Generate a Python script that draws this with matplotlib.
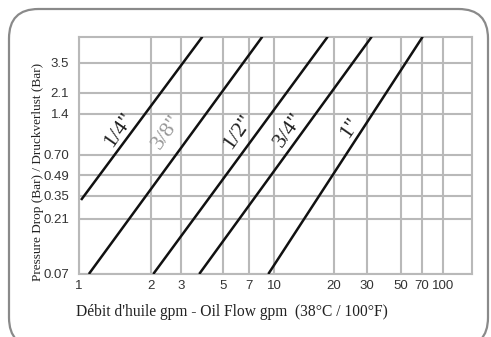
import matplotlib
matplotlib.use("Agg")
import matplotlib.pyplot as plt
import numpy as np
from matplotlib.patches import FancyBboxPatch

# --- data ---
x_ticks = [1, 2, 3, 5, 7, 10, 20, 30, 50, 70, 100]
y_ticks = [0.07, 0.21, 0.35, 0.49, 0.70, 1.4, 2.1, 3.5]
y_tick_labels = ["0.07", "0.21", "0.35", "0.49", "0.70", "1.4", "2.1", "3.5"]

x_min, x_max = 1, 160
y_min, y_max = 0.07, 5.5

hose_sizes = ['1/4"', '3/8"', '1/2"', '3/4"', '1"']
flow_start = [1.02, 1.10, 2.07, 3.75, 9.21]
flow_end = [3.90, 8.45, 18.6, 32.1, 71.2]
drop_start = [0.32, 0.07, 0.07, 0.07, 0.07]
drop_end = [5.5, 5.5, 5.5, 5.5, 5.5]

# where each size label sits (flow, pressure)
label_flow = [1.47, 2.50, 6.1, 11.9, 24.5]
label_drop = [1.06, 1.03, 1.03, 1.06, 1.10]
label_color = ["#222222", "#999999", "#222222", "#222222", "#222222"]

# the printed grid is not a true log grid: spacing of each break in pixels
x_scale_vals = x_ticks + [x_max]
x_scale_px = [0, 71.7, 102, 143.7, 170.3, 195, 255, 288.3, 321.7, 342.7, 363.7, 392.7]
y_scale_vals = y_ticks + [y_max]
y_scale_px = [0, 55.3, 78, 98.7, 119.3, 160.3, 181.3, 211.3, 237.3]


def make_scale(vals, px):
    lv = np.log10(vals)
    px = np.asarray(px, dtype=float)

    def fwd(v):
        v = np.log10(np.clip(np.asarray(v, dtype=float), 1e-9, None))
        out = np.interp(v, lv, px)
        lo = v < lv[0]
        hi = v > lv[-1]
        out = np.where(lo, px[0] + (v - lv[0]) * (px[1] - px[0]) / (lv[1] - lv[0]), out)
        out = np.where(hi, px[-1] + (v - lv[-1]) * (px[-1] - px[-2]) / (lv[-1] - lv[-2]), out)
        return out

    def inv(p):
        p = np.asarray(p, dtype=float)
        out = np.interp(p, px, lv)
        lo = p < px[0]
        hi = p > px[-1]
        out = np.where(lo, lv[0] + (p - px[0]) * (lv[1] - lv[0]) / (px[1] - px[0]), out)
        out = np.where(hi, lv[-1] + (p - px[-1]) * (lv[-1] - lv[-2]) / (px[-1] - px[-2]), out)
        return 10 ** out

    return fwd, inv


W, H = 491, 337
fig = plt.figure(figsize=(W / 100, H / 100), dpi=100)

# rounded frame around the whole chart
frame = FancyBboxPatch((9 / W, -10 / H), (488 - 9) / W, (H - 9 + 10) / H,
                       boxstyle="round,pad=0,rounding_size=0.06",
                       transform=fig.transFigure, facecolor="none",
                       edgecolor="#8a8a8a", linewidth=1.6, clip_on=False,
                       mutation_aspect=W / H)
fig.patches.append(frame)

ax = fig.add_axes([79 / W, (H - 274) / H, (471.7 - 79) / W, (274 - 36.7) / H])
ax.set_xscale("function", functions=make_scale(x_scale_vals, x_scale_px))
ax.set_yscale("function", functions=make_scale(y_scale_vals, y_scale_px))
ax.set_xlim(x_min, x_max)
ax.set_ylim(y_min, y_max)

ax.set_xticks(x_ticks)
ax.set_xticklabels([str(v) for v in x_ticks])
ax.set_yticks(y_ticks)
ax.set_yticklabels(y_tick_labels)
ax.minorticks_off()

tick_font = ["Liberation Sans Narrow", "Liberation Sans"]
ax.tick_params(axis="both", length=0, labelsize=9.5, colors="#333333")
ax.tick_params(axis="x", pad=4)
ax.tick_params(axis="y", pad=7)
for lab in ax.get_xticklabels() + ax.get_yticklabels():
    lab.set_family(tick_font)

ax.grid(True, color="#b9b9b9", linewidth=1.5)
ax.set_axisbelow(True)
for s in ax.spines.values():
    s.set_color("#b9b9b9")
    s.set_linewidth(1.5)

for i, name in enumerate(hose_sizes):
    ax.plot([flow_start[i], flow_end[i]], [drop_start[i], drop_end[i]],
            color="#111111", linewidth=1.8, solid_capstyle="butt", zorder=3)
    ax.text(label_flow[i], label_drop[i], name, rotation=55,
            rotation_mode="anchor", ha="center", va="center",
            fontsize=16, family="Liberation Serif", color=label_color[i])

fig.text(76 / W, (H - 312) / H,
         "Débit d'huile gpm - Oil Flow gpm  (38°C / 100°F)",
         ha="left", va="center", fontsize=11.2, family="Liberation Serif",
         color="#222222")
fig.text(38 / W, (H - 172) / H, "Pressure Drop (Bar) / Druckverlust (Bar)",
         rotation=90, ha="center", va="center", fontsize=9.5,
         family="Liberation Serif", color="#222222")

fig.savefig("out.png", dpi=100)
